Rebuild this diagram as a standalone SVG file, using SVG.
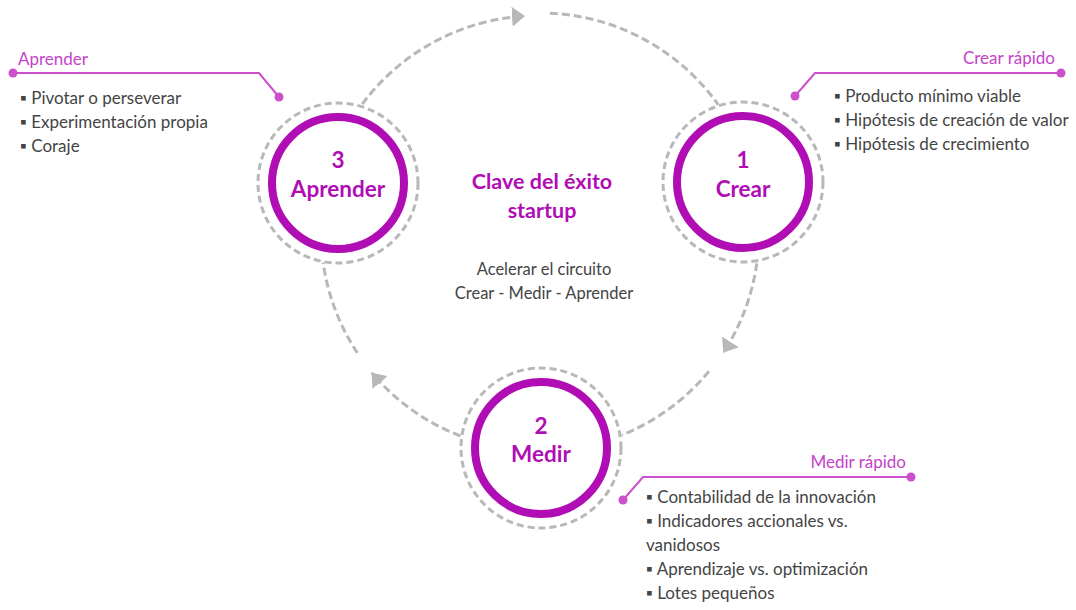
<svg xmlns="http://www.w3.org/2000/svg" width="1076" height="610" viewBox="0 0 1076 610">
<style>
.ring{fill:#fff;stroke:#b00db4;stroke-width:8}
.halo{fill:none;stroke:#b8b8b8;stroke-width:3;stroke-dasharray:7 4}
.conn{fill:none;stroke:#b8b8b8;stroke-width:3;stroke-dasharray:8 4}
.nt{font-family:Lato,"Liberation Sans",sans-serif;font-weight:700;font-size:22.5px;fill:#b00db4;text-anchor:middle}
.title{font-family:Lato,"Liberation Sans",sans-serif;font-weight:700;font-size:21.5px;fill:#b00db4;text-anchor:middle}
.body{font-family:Lato,"Liberation Sans",sans-serif;font-size:17px;fill:#444}
.sub{font-family:Lato,"Liberation Sans",sans-serif;font-size:16.5px;fill:#444;text-anchor:middle}
.call{font-family:Lato,"Liberation Sans",sans-serif;font-size:17px;fill:#c443c8}
.cl{fill:none;stroke:#cc4fcc;stroke-width:2}
.dot{fill:#cc4fcc}
.arw{fill:#b8b8b8}
</style>
<defs>
<marker id="ah" markerUnits="userSpaceOnUse" markerWidth="14" markerHeight="20" refX="13" refY="10" orient="auto" viewBox="0 0 14 20">
<path class="arw" d="M0,0 L13,10 L0,20 Z"/>
</marker>
</defs>
<g id="connectors">
<path class="conn" d="M362.3,104.1 A219,219 0 0 1 525,16" marker-end="url(#ah)"/>
<path class="conn" d="M549.9,13.2 A219,219 0 0 1 718.3,104.8"/>
<path class="conn" d="M756.8,263.2 A219,219 0 0 1 723.3,352.7" marker-end="url(#ah)"/>
<path class="conn" d="M709,371.3 A219,219 0 0 1 622,435"/>
<path class="conn" d="M460.4,436 A219,219 0 0 1 371.7,372.7" marker-end="url(#ah)"/>
<path class="conn" d="M357.4,352.9 A219,219 0 0 1 323.1,262.5"/>
</g>
<g id="node-aprender">
<circle class="halo" cx="338" cy="183" r="80"/>
<circle class="ring" cx="338" cy="183" r="66"/>
<text class="nt" x="338" y="168">3</text>
<text class="nt" x="338" y="197">Aprender</text>
</g>
<g id="node-crear">
<circle class="halo" cx="743" cy="182" r="80"/>
<circle class="ring" cx="743" cy="182" r="66"/>
<text class="nt" x="743" y="168">1</text>
<text class="nt" x="743" y="197">Crear</text>
</g>
<g id="node-medir">
<circle class="halo" cx="541" cy="448" r="80"/>
<circle class="ring" cx="541" cy="448" r="66"/>
<text class="nt" x="541" y="434">2</text>
<text class="nt" x="541" y="462">Medir</text>
</g>
<g id="center">
<text class="title" x="542" y="189">Clave del éxito</text>
<text class="title" x="542" y="218">startup</text>
<text class="sub" x="544" y="275">Acelerar el circuito</text>
<text class="sub" x="544" y="299">Crear - Medir - Aprender</text>
</g>
<g id="callout-aprender">
<polyline class="cl" points="13,73 259,73 279,97"/>
<circle class="dot" cx="13" cy="73" r="4.5"/>
<circle class="dot" cx="279" cy="97" r="4.5"/>
<text class="call" x="18" y="65">Aprender</text>
<text class="body" x="20" y="104">▪ Pivotar o perseverar</text>
<text class="body" x="20" y="128">▪ Experimentación propia</text>
<text class="body" x="20" y="152">▪ Coraje</text>
</g>
<g id="callout-crear">
<polyline class="cl" points="795,96 815,73 1061,73"/>
<circle class="dot" cx="795" cy="96" r="4.5"/>
<circle class="dot" cx="1061" cy="73" r="4.5"/>
<text class="call" x="1055" y="64" text-anchor="end">Crear rápido</text>
<text class="body" x="834" y="102">▪ Producto mínimo viable</text>
<text class="body" x="834" y="126">▪ Hipótesis de creación de valor</text>
<text class="body" x="834" y="150">▪ Hipótesis de crecimiento</text>
</g>
<g id="callout-medir">
<polyline class="cl" points="623,500 643,477 911,477"/>
<circle class="dot" cx="623" cy="500" r="4.5"/>
<circle class="dot" cx="911" cy="477" r="4.5"/>
<text class="call" x="906" y="468" text-anchor="end">Medir rápido</text>
<text class="body" x="646" y="503">▪ Contabilidad de la innovación</text>
<text class="body" x="646" y="527">▪ Indicadores accionales vs.</text>
<text class="body" x="646" y="551">vanidosos</text>
<text class="body" x="646" y="575">▪ Aprendizaje vs. optimización</text>
<text class="body" x="646" y="599">▪ Lotes pequeños</text>
</g>
</svg>
